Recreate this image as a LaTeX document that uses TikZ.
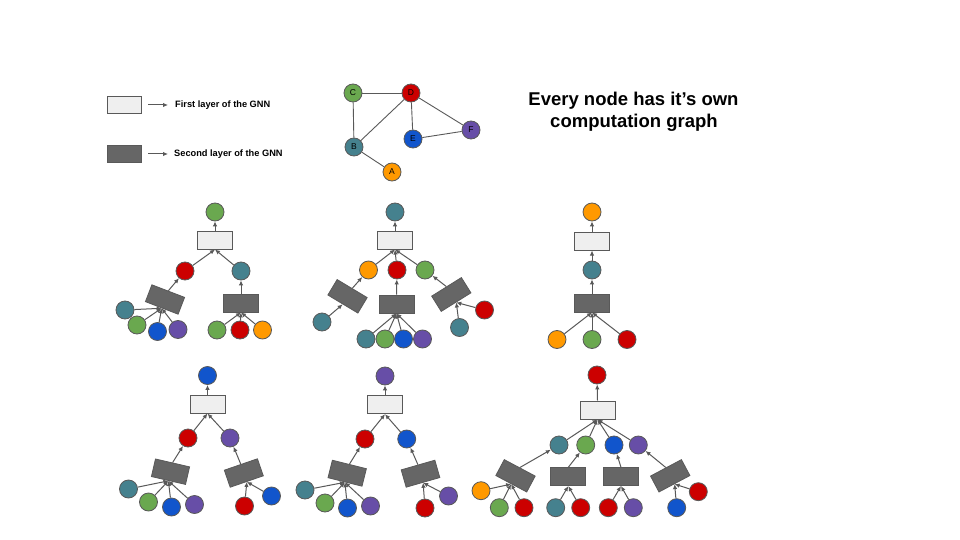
\documentclass[tikz,border=0pt]{standalone}
\usepackage{fontspec}
\setmainfont{Liberation Sans}
\usetikzlibrary{arrows.meta}
\definecolor{cgreen}{HTML}{6AA84F}
\definecolor{cred}{HTML}{CC0000}
\definecolor{cteal}{HTML}{45818E}
\definecolor{cblue}{HTML}{1155CC}
\definecolor{cpurple}{HTML}{674EA7}
\definecolor{corange}{HTML}{FF9900}
\definecolor{bordc}{HTML}{595959}
\definecolor{edgec}{HTML}{595959}
\definecolor{lightc}{HTML}{EFEFEF}
\definecolor{darkc}{HTML}{666666}
\tikzset{
  nd/.style={circle, draw=bordc, line width=0.8pt, minimum size=18pt, inner sep=0pt},
  gnd/.style={nd, font=\fontsize{8.5}{9}\selectfont},
  layone/.style={draw=bordc, fill=lightc, line width=1pt, minimum width=35pt, minimum height=18pt, inner sep=0pt},
  laytwo/.style={draw=bordc, fill=darkc, line width=0.8pt, minimum width=35pt, minimum height=18pt, inner sep=0pt},
  arr/.style={draw=edgec, line width=1pt, -{Latex[length=5pt,width=4.5pt]}},
  gedge/.style={draw=edgec, line width=0.9pt},
  legtxt/.style={anchor=base west, inner sep=0pt, font=\fontsize{9.25}{10}\selectfont\bfseries},
  ttl/.style={anchor=base, inner sep=0pt, font=\fontsize{18.5}{20}\selectfont\bfseries}
}
\begin{document}
\begin{tikzpicture}[x=1pt,y=-1pt]
\useasboundingbox[fill=white] (0,0) rectangle (960,540);

% ---------- legend ----------
\node[layone, minimum width=34pt, minimum height=17pt] (l1) at (124.5,105.5) {};
\node[laytwo, minimum width=34pt, minimum height=17pt] (l2) at (124.5,154) {};
\coordinate (l1s) at (148,105); \coordinate (l1e) at (168,105);
\coordinate (l2s) at (148,154); \coordinate (l2e) at (168,154);
\draw[arr] (l1s) -- (l1e);
\draw[arr] (l2s) -- (l2e);
\node[legtxt] (l1t) at (175,107.5) {First layer of the GNN};
\node[legtxt] (l2t) at (174,156.5) {Second layer of the GNN};

% ---------- input graph ----------
\node[gnd, fill=cgreen] (gC) at (353,93) {C};
\node[gnd, fill=cred] (gD) at (411,93) {D};
\node[gnd, fill=cblue] (gE) at (413,139) {E};
\node[gnd, fill=cpurple] (gF) at (471,130) {F};
\node[gnd, fill=cteal] (gB) at (354,147) {B};
\node[gnd, fill=corange] (gA) at (392,172) {A};
\draw[gedge] (gC) -- (gD);
\draw[gedge] (gC) -- (gB);
\draw[gedge] (gB) -- (gD);
\draw[gedge] (gD) -- (gE);
\draw[gedge] (gD) -- (gF);
\draw[gedge] (gE) -- (gF);
\draw[gedge] (gB) -- (gA);

% ---------- title ----------
\node[ttl] (ti1) at (633.5,106) {Every node has it’s own};
\node[ttl] (ti2) at (634,128) {computation graph};

% ---------- tree 1 (C) ----------
\node[nd, fill=cgreen] (t1r) at (215,212) {};
\node[layone] (t1a) at (215,240) {};
\node[nd, fill=cred] (t1b) at (185,271) {};
\node[nd, fill=cteal] (t1c) at (241,271) {};
\node[laytwo, rotate=-21] (t1d) at (165,299.5) {};
\node[laytwo] (t1e) at (241,303) {};
\node[nd, fill=cteal] (t1f) at (125,310) {};
\node[nd, fill=cgreen] (t1g) at (137,325) {};
\node[nd, fill=cblue] (t1h) at (157.5,331.5) {};
\node[nd, fill=cpurple] (t1i) at (178,329.5) {};
\node[nd, fill=cgreen] (t1j) at (217,330) {};
\node[nd, fill=cred] (t1k) at (240,330) {};
\node[nd, fill=corange] (t1l) at (262.5,330) {};
\draw[arr] (t1a.north) -- (t1r);
\draw[arr] (t1b) -- (t1a.south);
\draw[arr] (t1c) -- (t1a.south);
\draw[arr] (t1d.north) -- (t1b);
\draw[arr] (t1e.north) -- (t1c);
\foreach \n in {t1f,t1g,t1h,t1i} \draw[arr] (\n) -- (t1d.south);
\foreach \n in {t1j,t1k,t1l} \draw[arr] (\n) -- (t1e.south);

% ---------- tree 2 (B) ----------
\node[nd, fill=cteal] (t2r) at (395,212) {};
\node[layone] (t2a) at (395,240) {};
\node[nd, fill=corange] (t2b) at (368.5,270) {};
\node[nd, fill=cred] (t2c) at (397,270) {};
\node[nd, fill=cgreen] (t2d) at (425,270) {};
\node[laytwo, rotate=-31] (t2e) at (347.5,296.3) {};
\node[laytwo] (t2f) at (396.5,304) {};
\node[laytwo, rotate=32] (t2g) at (451.3,294.5) {};
\node[nd, fill=cteal] (t2h) at (322,322) {};
\node[nd, fill=cteal] (t2i) at (366,339) {};
\node[nd, fill=cgreen] (t2j) at (385,339) {};
\node[nd, fill=cblue] (t2k) at (403.5,339) {};
\node[nd, fill=cpurple] (t2l) at (422.5,339) {};
\node[nd, fill=cteal] (t2m) at (459.5,327.5) {};
\node[nd, fill=cred] (t2n) at (484.5,310) {};
\draw[arr] (t2a.north) -- (t2r);
\foreach \n in {t2b,t2c,t2d} \draw[arr] (\n) -- (t2a.south);
\draw[arr] (t2e.north) -- (t2b);
\draw[arr] (t2f.north) -- (t2c);
\draw[arr] (t2g.north) -- (t2d);
\draw[arr] (t2h) -- (t2e.south);
\foreach \n in {t2i,t2j,t2k,t2l} \draw[arr] (\n) -- (t2f.south);
\foreach \n in {t2m,t2n} \draw[arr] (\n) -- (t2g.south);

% ---------- tree 3 (A) ----------
\node[nd, fill=corange] (t3r) at (592,212) {};
\node[layone] (t3a) at (592,241) {};
\node[nd, fill=cteal] (t3b) at (592,270) {};
\node[laytwo] (t3c) at (592,303) {};
\node[nd, fill=corange] (t3d) at (557,339.5) {};
\node[nd, fill=cgreen] (t3e) at (592,339.5) {};
\node[nd, fill=cred] (t3f) at (627,339.5) {};
\draw[arr] (t3a.north) -- (t3r);
\draw[arr] (t3b) -- (t3a.south);
\draw[arr] (t3c.north) -- (t3b);
\foreach \n in {t3d,t3e,t3f} \draw[arr] (\n) -- (t3c.south);

% ---------- tree 4 (E) ----------
\node[nd, fill=cblue] (t4r) at (207.5,375.5) {};
\node[layone] (t4a) at (207.5,404) {};
\node[nd, fill=cred] (t4b) at (188,438) {};
\node[nd, fill=cpurple] (t4c) at (230,438) {};
\node[laytwo, rotate=-13] (t4d) at (170.5,471.7) {};
\node[laytwo, rotate=19] (t4e) at (243.8,473) {};
\node[nd, fill=cteal] (t4f) at (128.5,489) {};
\node[nd, fill=cgreen] (t4g) at (148.5,502) {};
\node[nd, fill=cblue] (t4h) at (171.5,507) {};
\node[nd, fill=cpurple] (t4i) at (194.5,504.5) {};
\node[nd, fill=cred] (t4j) at (244.5,506) {};
\node[nd, fill=cblue] (t4k) at (271.5,496) {};
\draw[arr] (t4a.north) -- (t4r);
\foreach \n in {t4b,t4c} \draw[arr] (\n) -- (t4a.south);
\draw[arr] (t4d.north) -- (t4b);
\draw[arr] (t4e.north) -- (t4c);
\foreach \n in {t4f,t4g,t4h,t4i} \draw[arr] (\n) -- (t4d.south);
\foreach \n in {t4j,t4k} \draw[arr] (\n) -- (t4e.south);

% ---------- tree 5 (F) ----------
\node[nd, fill=cpurple] (t5r) at (385,376) {};
\node[layone] (t5a) at (385,404.7) {};
\node[nd, fill=cred] (t5b) at (365,439) {};
\node[nd, fill=cblue] (t5c) at (406.7,439) {};
\node[laytwo, rotate=-14] (t5d) at (347.2,473.2) {};
\node[laytwo, rotate=16] (t5e) at (420.5,473.7) {};
\node[nd, fill=cteal] (t5f) at (305,490) {};
\node[nd, fill=cgreen] (t5g) at (325,503) {};
\node[nd, fill=cblue] (t5h) at (347.5,508) {};
\node[nd, fill=cpurple] (t5i) at (370.5,506) {};
\node[nd, fill=cred] (t5j) at (425,508) {};
\node[nd, fill=cpurple] (t5k) at (448.5,496) {};
\draw[arr] (t5a.north) -- (t5r);
\foreach \n in {t5b,t5c} \draw[arr] (\n) -- (t5a.south);
\draw[arr] (t5d.north) -- (t5b);
\draw[arr] (t5e.north) -- (t5c);
\foreach \n in {t5f,t5g,t5h,t5i} \draw[arr] (\n) -- (t5d.south);
\foreach \n in {t5j,t5k} \draw[arr] (\n) -- (t5e.south);

% ---------- tree 6 (D) ----------
\node[nd, fill=cred] (t6r) at (597,375) {};
\node[layone] (t6a) at (597.5,410) {};
\node[nd, fill=cteal] (t6b) at (559,445) {};
\node[nd, fill=cgreen] (t6c) at (585.7,445) {};
\node[nd, fill=cblue] (t6d) at (614,445) {};
\node[nd, fill=cpurple] (t6e) at (638.3,445) {};
\node[laytwo, rotate=-28] (t6f) at (515.5,475.8) {};
\node[laytwo] (t6g) at (568.3,476.7) {};
\node[laytwo] (t6h) at (621,476.7) {};
\node[laytwo, rotate=28] (t6i) at (670.2,475.8) {};
\node[nd, fill=corange] (t6j) at (481,490.7) {};
\node[nd, fill=cgreen] (t6k) at (499.3,507.7) {};
\node[nd, fill=cred] (t6l) at (524,507.7) {};
\node[nd, fill=cteal] (t6m) at (555.7,507.7) {};
\node[nd, fill=cred] (t6n) at (580.7,507.7) {};
\node[nd, fill=cred] (t6o) at (608.3,507.7) {};
\node[nd, fill=cpurple] (t6p) at (633.3,507.7) {};
\node[nd, fill=cblue] (t6q) at (676.7,507.7) {};
\node[nd, fill=cred] (t6s) at (698.3,491.7) {};
\draw[arr] (t6a.north) -- (t6r);
\foreach \n in {t6b,t6c,t6d,t6e} \draw[arr] (\n) -- (t6a.south);
\draw[arr] (t6f.north) -- (t6b);
\draw[arr] (t6g.north) -- (t6c);
\draw[arr] (t6h.north) -- (t6d);
\draw[arr] (t6i.north) -- (t6e);
\foreach \n in {t6j,t6k,t6l} \draw[arr] (\n) -- (t6f.south);
\foreach \n in {t6m,t6n} \draw[arr] (\n) -- (t6g.south);
\foreach \n in {t6o,t6p} \draw[arr] (\n) -- (t6h.south);
\foreach \n in {t6q,t6s} \draw[arr] (\n) -- (t6i.south);
\end{tikzpicture}
\end{document}
